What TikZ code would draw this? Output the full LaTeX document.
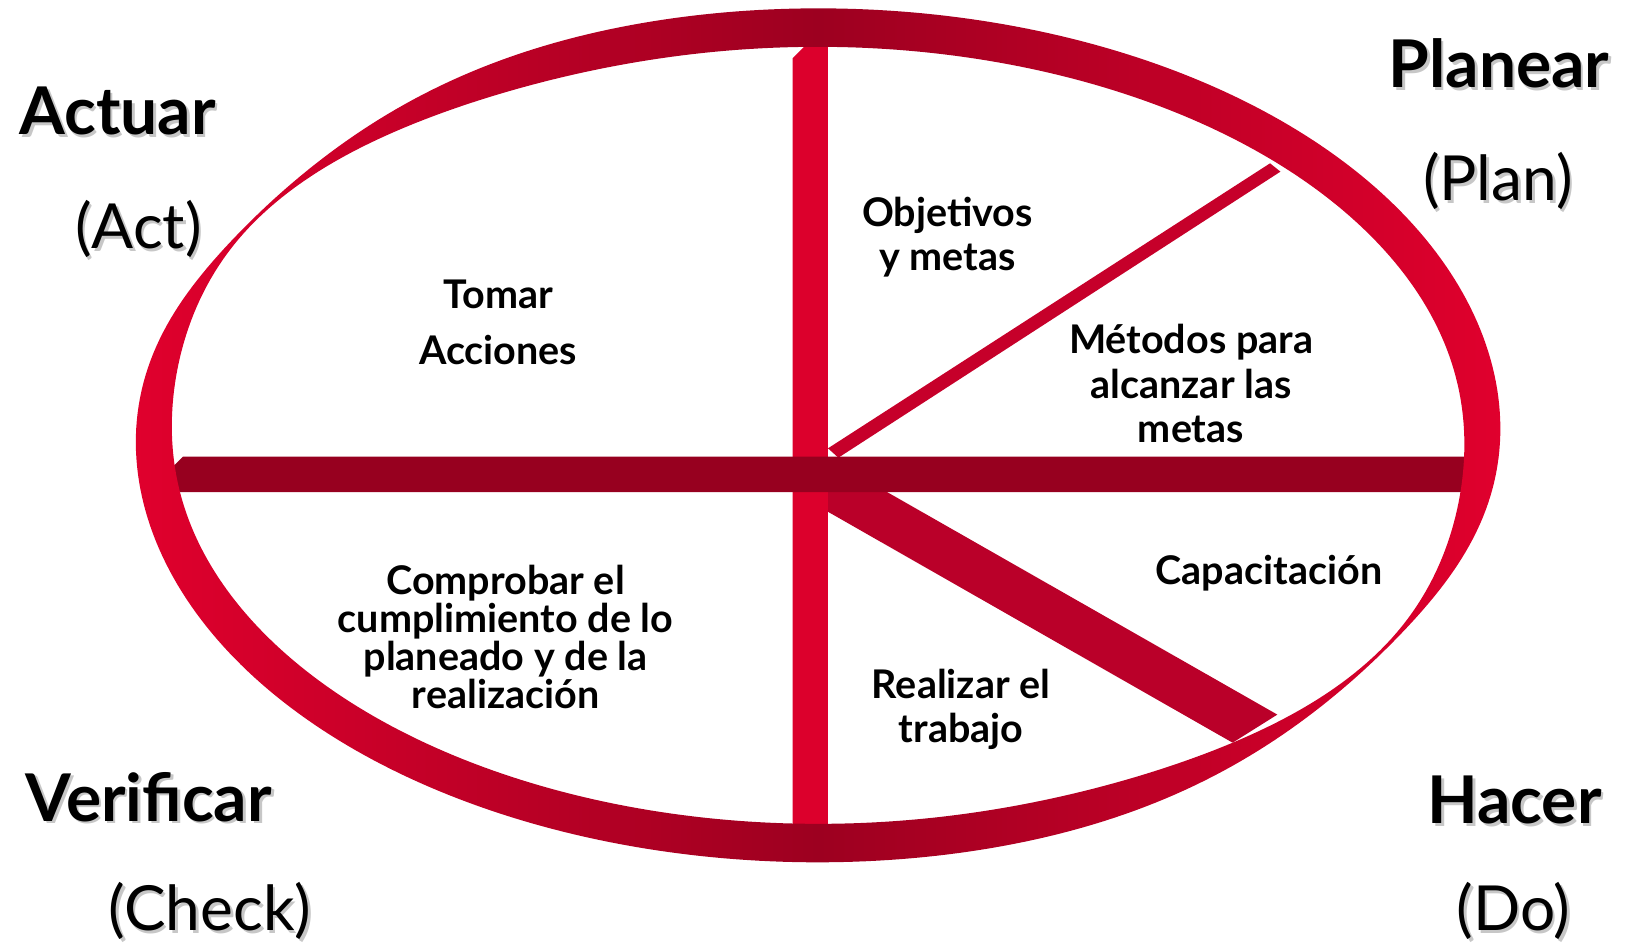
\documentclass[tikz,border=0pt]{standalone}
\usepackage{fontspec}
\setmainfont{Lato}

\definecolor{ringdark}{HTML}{9D0020}
\definecolor{ringlite}{HTML}{E0002D}
\definecolor{spokered}{HTML}{DC002C}
\definecolor{bardark}{HTML}{97001F}
\definecolor{diagred}{HTML}{C6002A}
\definecolor{diagdark}{HTML}{BA0029}

\tikzset{
  phase/.style={font=\fontsize{18}{20}\selectfont\bfseries, inner sep=0pt},
  eng/.style={font=\fontsize{17}{19}\selectfont, inner sep=0pt},
  ghost/.style={text=black!22},
  task/.style={font=\fontsize{10.8}{12.2}\selectfont\bfseries, align=center, inner sep=0pt},
  declare function={
    ribd(\t)=mod(\t+302.2,180)-90;
    ribw(\t)=1.5+17*(1-pow(abs(cos(ribd(\t))),((ribd(\t)<0) ? 12 : 16)));
    ribn(\t)=sqrt(cos(\t)^2+(1.6288*sin(\t))^2);
  }
}

\begin{document}
\begin{tikzpicture}[x=0.01cm,y=0.01cm]
  \useasboundingbox (0,0) rectangle (1568,-908);

  % spokes
  \fill[diagred] (796,-431) -- (1221,-157) -- (1231,-165) -- (806,-440) -- cycle;
  \fill[diagdark] (796,-472) -- (851,-472) -- (1228,-687) -- (1185,-714) -- (796,-492) -- cycle;
  \fill[spokered] (762,-56) -- (777,-41) -- (796,-41) -- (796,-795) -- (762,-795) -- cycle;
  \fill[bardark] (176,-439) -- (1409,-439) -- (1409,-473) -- (168,-473) -- (166,-449) -- cycle;

  % twisted ring
  \path[shade, left color=ringlite, right color=ringlite, middle color=ringdark, even odd rule]
    plot[domain=0:360, samples=361, variable=\t]
      ({786.5+638.5*cos(\t)+ribw(\t)*cos(\t)/ribn(\t)}, {-418.5+392*sin(\t)+ribw(\t)*1.6288*sin(\t)/ribn(\t)}) -- cycle
    plot[domain=0:360, samples=361, variable=\t]
      ({786.5+638.5*cos(\t)-ribw(\t)*cos(\t)/ribn(\t)}, {-418.5+392*sin(\t)-ribw(\t)*1.6288*sin(\t)/ribn(\t)}) -- cycle;

  % phases (with soft shadow)
  \node[phase, ghost] (actuar-s) at (115.5,-109.5) {Actuar};
  \node[eng, ghost] (act-s) at (135.5,-222.5) {(Act)};
  \node[phase, ghost] (planear-s) at (1443.5,-63.5) {Planear};
  \node[eng, ghost] (plan-s) at (1442.5,-176.5) {(Plan)};
  \node[phase, ghost] (verificar-s) at (145.5,-768.5) {Verificar};
  \node[eng, ghost] (check-s) at (204.5,-878.5) {(Check)};
  \node[phase, ghost] (hacer-s) at (1458.5,-771.5) {Hacer};
  \node[eng, ghost] (do-s) at (1457.5,-878.5) {(Do)};

  \node[phase] (actuar) at (113,-107) {Actuar};
  \node[eng] (act) at (133,-220) {(Act)};
  \node[phase] (planear) at (1441,-61) {Planear};
  \node[eng] (plan) at (1440,-174) {(Plan)};
  \node[phase] (verificar) at (143,-766) {Verificar};
  \node[eng] (check) at (202,-876) {(Check)};
  \node[phase] (hacer) at (1456,-769) {Hacer};
  \node[eng] (do) at (1455,-876) {(Do)};

  % tasks
  \node[task, font=\fontsize{10.8}{15.1}\selectfont\bfseries] (tomar) at (479,-310) {Tomar\\Acciones};
  \node[task] (objetivos) at (911,-228) {Objetivos\\y metas};
  \node[task] (metodos) at (1145,-369) {Métodos para\\alcanzar las\\metas};
  \node[task] (capacitacion) at (1220,-551) {Capacitación};
  \node[task] (realizar) at (924,-682) {Realizar el\\trabajo};
  \node[task, font=\fontsize{10.8}{10.4}\selectfont\bfseries] (comprobar) at (486,-612) {Comprobar el\\cumplimiento de lo\\planeado y de la\\realización};
\end{tikzpicture}
\end{document}
